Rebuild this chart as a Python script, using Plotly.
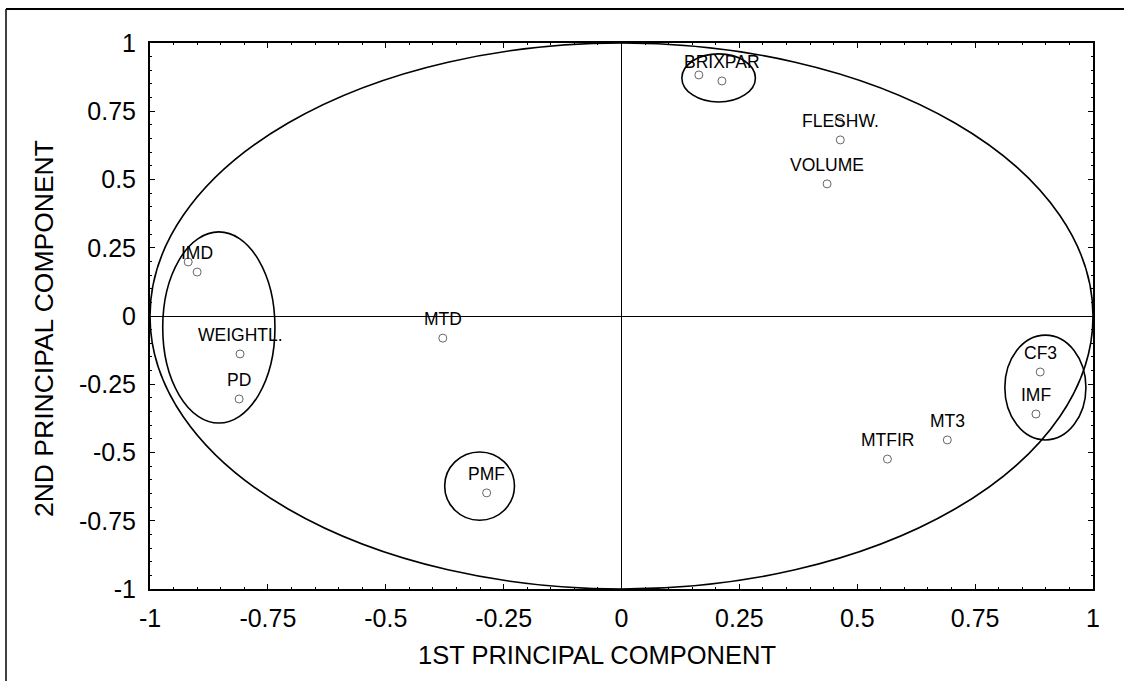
import plotly.graph_objects as go

# ---- data ----
var_names = ["BRIX", "BRIXPAR", "FLESH", "FLESHW.", "VOLUME", "IMD0", "IMD",
             "WEIGHTL.", "PD", "MTD", "PMF", "CF3", "IMF", "MT3", "MTFIR"]
point_labels = ["", "BRIXPAR", "", "FLESHW.", "VOLUME", "", "IMD",
                "WEIGHTL.", "PD", "MTD", "PMF", "CF3", "IMF", "MT3", "MTFIR"]
pc1 = [0.164, 0.213, 0.462, 0.464, 0.436, -0.919, -0.900,
       -0.809, -0.811, -0.379, -0.286, 0.888, 0.879, 0.691, 0.564]
pc2 = [0.883, 0.861, 0.711, 0.645, 0.484, 0.198, 0.161,
       -0.139, -0.304, -0.081, -0.648, -0.205, -0.359, -0.454, -0.524]

# grouping ellipses: unit circle + clusters
ell_cx = [0.0, -0.854, -0.301, 0.899, 0.206]
ell_cy = [0.0, -0.042, -0.623, -0.262, 0.872]
ell_rx = [1.0, 0.119, 0.074, 0.086, 0.078]
ell_ry = [1.0, 0.350, 0.125, 0.192, 0.088]

tick_vals = [-1, -0.75, -0.5, -0.25, 0, 0.25, 0.5, 0.75, 1]
tick_text = ["-1", "-0.75", "-0.5", "-0.25", "0", "0.25", "0.5", "0.75", "1"]

x_title = "1ST PRINCIPAL COMPONENT"
y_title = "2ND PRINCIPAL COMPONENT"

FONT = "Liberation Sans, Arial, sans-serif"

fig = go.Figure()
fig.add_trace(go.Scatter(
    x=pc1, y=pc2, mode="markers", text=var_names, hoverinfo="text",
    marker=dict(symbol="circle-open", size=8, color="#666666",
                line=dict(width=1, color="#666666")),
    showlegend=False,
))

for xv, yv, lab in zip(pc1, pc2, point_labels):
    if lab:
        fig.add_annotation(x=xv, y=yv, text=lab, showarrow=False,
                           xanchor="center", yanchor="middle", yshift=19,
                           font=dict(family=FONT, size=17.5, color="black"))

for cx, cy, rx, ry in zip(ell_cx, ell_cy, ell_rx, ell_ry):
    fig.add_shape(type="circle", xref="x", yref="y",
                  x0=cx - rx, x1=cx + rx, y0=cy - ry, y1=cy + ry,
                  line=dict(color="black", width=1.6), layer="above")

# outer page border (left and top)
fig.add_shape(type="line", xref="paper", yref="paper",
              x0=-0.1527, x1=-0.1527, y0=-0.2, y1=1.0623,
              line=dict(color="black", width=1.5))
fig.add_shape(type="line", xref="paper", yref="paper",
              x0=-0.1527, x1=1.04, y0=1.0623, y1=1.0623,
              line=dict(color="black", width=2))

# axis titles
fig.add_annotation(xref="paper", yref="paper", x=0.5, y=-0.1209, xshift=-25,
                   text=x_title, showarrow=False, xanchor="center", yanchor="middle",
                   font=dict(family=FONT, size=25.5, color="black"))
fig.add_annotation(xref="paper", yref="paper", x=-0.1124, y=0.4762,
                   text=y_title, showarrow=False, textangle=-90,
                   xanchor="center", yanchor="middle",
                   font=dict(family=FONT, size=26.5, color="black"))

axis_common = dict(
    range=[-1, 1], tickvals=tick_vals, ticktext=tick_text,
    showgrid=False, zeroline=True, zerolinecolor="black", zerolinewidth=1.2,
    showline=True, linecolor="black", linewidth=2, mirror="ticks",
    ticks="inside", ticklen=5, tickcolor="black", tickwidth=1,
    minor=dict(dtick=0.05, ticks="inside", ticklen=2, tickcolor="black", tickwidth=1),
    tickfont=dict(family=FONT, size=25, color="black"),
)

fig.update_xaxes(**axis_common, ticklabelstandoff=6)
fig.update_yaxes(**axis_common, ticklabelstandoff=7)

fig.update_layout(
    width=1124, height=681,
    margin=dict(l=150, r=31, t=43, b=92),
    plot_bgcolor="white", paper_bgcolor="white",
    font=dict(family=FONT, color="black"),
)

fig.write_html("out.html", config={"displayModeBar": False},
               post_script="document.body.style.margin='0';")
